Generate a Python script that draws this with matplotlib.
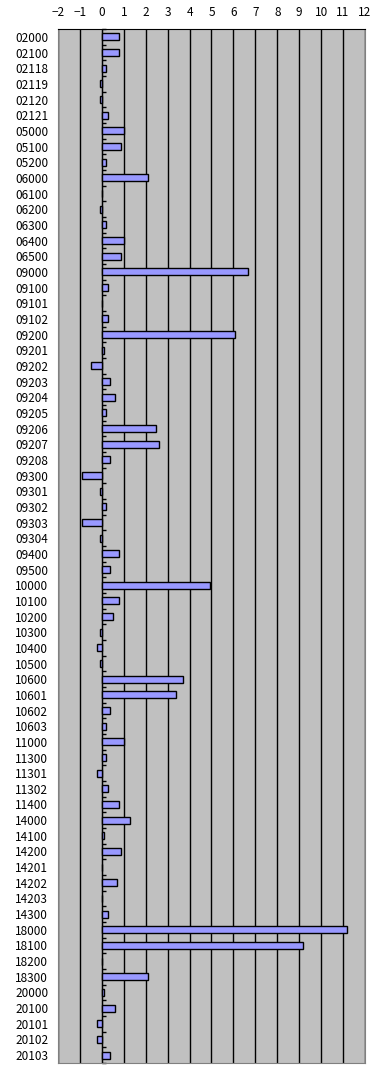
import numpy as np
import matplotlib
matplotlib.use('Agg')
import matplotlib.pyplot as plt

# 코드 목록 (위에서 아래 순서)
codes = ['02000', '02100', '02118', '02119', '02120', '02121',
         '05000', '05100', '05200',
         '06000', '06100', '06200', '06300', '06400', '06500',
         '09000', '09100', '09101', '09102', '09200', '09201', '09202',
         '09203', '09204', '09205', '09206', '09207', '09208',
         '09300', '09301', '09302', '09303', '09304', '09400', '09500',
         '10000', '10100', '10200', '10300', '10400', '10500',
         '10600', '10601', '10602', '10603',
         '11000', '11300', '11301', '11302', '11400',
         '14000', '14100', '14200', '14201', '14202', '14203', '14300',
         '18000', '18100', '18200', '18300',
         '20000', '20100', '20101', '20102', '20103']

values = [0.77, 0.77, 0.17, -0.1, -0.1, 0.27,
          1.0, 0.87, 0.17,
          2.1, 0.0, -0.1, 0.17, 1.0, 0.87,
          6.68, 0.27, 0.0, 0.27, 6.07, 0.08, -0.51,
          0.36, 0.59, 0.17, 2.47, 2.6, 0.36,
          -0.92, -0.1, 0.17, -0.92, -0.1, 0.77, 0.36,
          4.95, 0.77, 0.5, -0.1, -0.24, -0.1,
          3.69, 3.37, 0.36, 0.17,
          1.0, 0.17, -0.24, 0.27, 0.77,
          1.27, 0.08, 0.87, 0.0, 0.68, 0.0, 0.27,
          11.18, 9.17, 0.0, 2.1,
          0.08, 0.59, -0.24, -0.24, 0.36]

xticks = list(range(-2, 13))

plt.rcParams['font.family'] = ['Noto Sans CJK JP', 'DejaVu Sans']

fig = plt.figure(figsize=(3.71, 10.68), dpi=100)
ax = fig.add_axes([0.1563, 0.0047, 0.9838 - 0.1563, 0.9728 - 0.0047])

y = np.arange(len(codes))
ax.barh(y, values, height=0.45, color='#9999FF', edgecolor='black', linewidth=1, zorder=3)

ax.set_facecolor('#C0C0C0')
ax.set_xlim(-2, 12)
ax.set_ylim(len(codes) - 0.5, -0.5)
ax.set_xticks(xticks)
ax.xaxis.tick_top()
ax.tick_params(axis='x', length=0, pad=7, labelsize=8.5)
ax.set_yticks(y)
ax.set_yticklabels(codes)
ax.tick_params(axis='y', length=0, pad=7, labelsize=8.5)
ax.grid(axis='x', color='black', linewidth=1, zorder=1)

for side in ['left', 'right', 'bottom']:
    ax.spines[side].set_color('#808080')
ax.spines['top'].set_color('black')

# 0 위치의 카테고리 축 눈금
sec = ax.secondary_yaxis((0 + 2) / 14)
sec.set_yticks(np.arange(len(codes) + 1) - 0.5)
sec.set_yticklabels([])
sec.tick_params(axis='y', direction='in', length=3, width=1, color='black')
sec.spines['left'].set_color('black')

fig.savefig('out.png', dpi=100)
